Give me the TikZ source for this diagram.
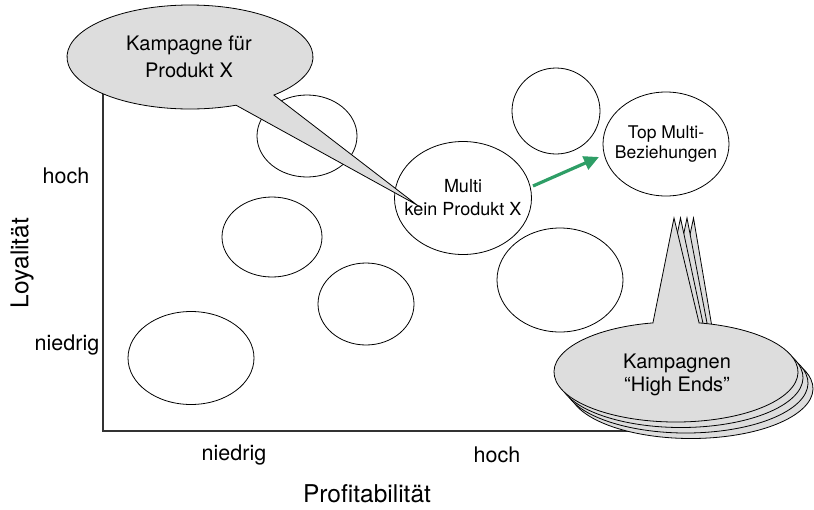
\documentclass[tikz,border=0pt]{standalone}
\usepackage{fontspec}
\setmainfont{TeX Gyre Heros}
\usetikzlibrary{shapes.geometric,arrows.meta}
\definecolor{bubblegray}{RGB}{221,221,221}
\definecolor{arrowgreen}{RGB}{46,158,102}
\begin{document}
\begin{tikzpicture}[x=1pt,y=1pt,
  bubble/.style={ellipse, draw=black, line width=0.8pt, fill=white, inner sep=0pt},
  calloutline/.style={draw=black, fill=bubblegray, line width=0.8pt, line join=miter, miter limit=25},
  axisline/.style={line width=1.2pt, draw=black!80},
  ticklabel/.style={font=\fontsize{21.5}{25}\selectfont, inner sep=0pt},
  axistitle/.style={font=\fontsize{24.5}{29}\selectfont, inner sep=0pt},
  bubbletext/.style={align=center, inner sep=0pt},
  greenarrow/.style={line width=3.2pt, draw=arrowgreen, -{Triangle[length=15pt,width=14pt]}}
]
\useasboundingbox (0,0) rectangle (814,-509);

% axes
\coordinate (origin) at (103,-431);
\coordinate (ytop) at (103,-80);
\coordinate (xend) at (700,-431);
\draw[axisline] (ytop) -- (origin) -- (xend);

% axis labels
\node[ticklabel] (yhigh) at (66,-176) {hoch};
\node[ticklabel] (ylow) at (67,-345) {niedrig};
\node[axistitle, rotate=90] (ytitle) at (22,-263) {Loyalität};
\node[ticklabel] (xlow) at (234,-455) {niedrig};
\node[ticklabel] (xhigh) at (497,-455) {hoch};
\node[axistitle] (xtitle) at (367,-494) {Profitabilität};

% customer segments
\node[bubble, minimum width=100pt, minimum height=82pt] (seg1) at (307,-136) {};
\node[bubble, minimum width=100pt, minimum height=80pt] (seg2) at (272,-237) {};
\node[bubble, minimum width=96pt, minimum height=82pt] (seg3) at (366,-304) {};
\node[bubble, minimum width=126pt, minimum height=93pt] (seg4) at (191,-358) {};
\node[bubble, minimum width=88pt, minimum height=86pt] (seg5) at (556,-111) {};
\node[bubble, minimum width=126pt, minimum height=104pt] (seg6) at (560,-280) {};
\node[bubble, minimum width=137pt, minimum height=113pt] (multi) at (463,-198) {};
\node[bubble, minimum width=126pt, minimum height=104pt] (top) at (666,-144) {};
\node[bubbletext, font=\fontsize{18}{23}\selectfont] (multitext) at (multi) {Multi\\kein Produkt X};
\node[bubbletext, font=\fontsize{17.5}{20.5}\selectfont] (toptext) at (top) {Top Multi-\\Beziehungen};

% callout for product X
\coordinate (tipA) at (417,-205);
\path[calloutline] (190,-57) ++(-47:123pt and 52pt)
  arc[start angle=-47, end angle=292, x radius=123pt, y radius=52pt] -- (tipA) -- cycle;
\node[bubbletext, font=\fontsize{20}{27}\selectfont] (callA) at (189,-57) {Kampagne für\\Produkt X};

% upgrade arrow
\coordinate (arrS) at (533,-186);
\coordinate (arrE) at (599,-157);
\draw[greenarrow] (arrS) -- (arrE);

% stacked campaign callouts
\foreach \k in {3,2,1,0} {
  \path[calloutline] ({676+5*\k},{-372-5.5*\k}) ++(100.9:122pt and 50pt)
    arc[start angle=100.9, end angle=439.1, x radius=122pt, y radius=50pt]
    -- ({674+6.5*\k},-218) -- cycle;
}
\node[bubbletext, font=\fontsize{20}{23.5}\selectfont] (callB) at (677,-375) {Kampagnen\\“High Ends”};
\end{tikzpicture}
\end{document}
